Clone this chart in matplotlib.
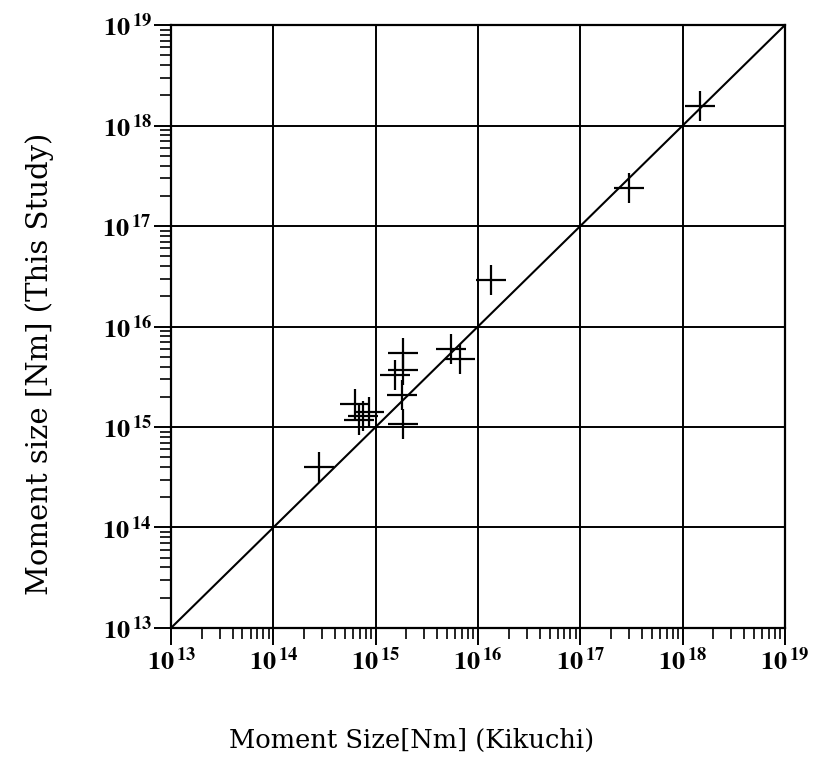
import matplotlib
import matplotlib.pyplot as plt
from matplotlib.ticker import LogLocator, NullFormatter

matplotlib.use('Agg')

plt.rcParams['font.family'] = 'DejaVu Serif'
plt.rcParams['mathtext.fontset'] = 'stix'

# Seismic moments of each event, Kikuchi vs. this study [Nm]
kikuchi = [2.77e14, 6.3e14, 6.8e14, 7.6e14, 8.6e14, 1.86e15, 1.8e15, 1.55e15,
           1.86e15, 1.86e15, 5.5e15, 6.6e15, 1.33e16, 2.96e17, 1.48e18]
this_study = [4.0e14, 1.68e15, 1.17e15, 1.30e15, 1.40e15, 1.08e15, 2.1e15, 3.3e15,
              3.7e15, 5.4e15, 6.0e15, 4.8e15, 2.9e16, 2.37e17, 1.56e18]

decades = [13, 14, 15, 16, 17, 18, 19]

fig = plt.figure(figsize=(8.2, 7.73), dpi=100)
ax = fig.add_axes([0.2085, 0.1876, 0.7488, 0.780])

ax.set_xscale('log')
ax.set_yscale('log')
ax.set_xlim(1e13, 1e19)
ax.set_ylim(1e13, 1e19)

# one-to-one line
ax.plot([1e13, 1e19], [1e13, 1e19], color='black', lw=1.5, zorder=3)

ax.plot(kikuchi, this_study, linestyle='none', marker='+', markersize=21,
        markeredgewidth=1.6, color='black', zorder=4)

# grid only at decades
ax.grid(True, which='major', color='black', lw=1.4)
ax.set_axisbelow(True)

ticks = [10.0 ** d for d in decades]
labels = [rf'$\mathbf{{10}}^{{\,\mathbf{{{d}}}}}$' for d in decades]
ax.set_xticks(ticks)
ax.set_yticks(ticks)
ax.set_xticklabels(labels)
ax.set_yticklabels(labels)

ax.xaxis.set_minor_locator(LogLocator(base=10, subs=range(2, 10), numticks=20))
ax.yaxis.set_minor_locator(LogLocator(base=10, subs=range(2, 10), numticks=20))
ax.xaxis.set_minor_formatter(NullFormatter())
ax.yaxis.set_minor_formatter(NullFormatter())

ax.tick_params(axis='both', which='major', direction='out', length=12, width=1.4,
               labelsize=19, pad=2)
ax.tick_params(axis='both', which='minor', direction='out', length=8, width=1.2)
ax.tick_params(top=False, right=False)

for s in ax.spines.values():
    s.set_linewidth(1.6)

fig.text(412 / 820, 1 - 740 / 773, 'Moment Size[Nm] (Kikuchi)', fontsize=18.5,
         ha='center', va='center')
fig.text(40 / 820, 1 - 364 / 773, 'Moment size [Nm] (This Study)', fontsize=21,
         ha='center', va='center', rotation=90)

fig.savefig('out.png', dpi=100)
